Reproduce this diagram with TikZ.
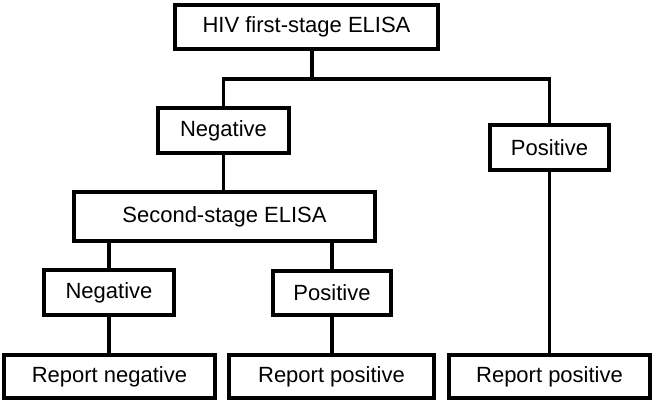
\documentclass[tikz,border=0pt]{standalone}
\usepackage{fontspec}
\setmainfont{Liberation Sans}
\begin{document}
\begin{tikzpicture}[x=1pt,y=-1pt,
  box/.style={draw=black, line width=3.8pt, fill=white, inner sep=0pt,
    font=\fontsize{22}{26}\selectfont, anchor=center},
  link/.style={draw=black, line width=3.4pt}]
\useasboundingbox (0,0) rectangle (654,402);
\fill[white] (0,0) rectangle (654,402);
% nodes
\node[box, minimum width=263pt, minimum height=44pt] (top) at (306.5,27) {HIV first-stage ELISA};
\node[box, minimum width=131pt, minimum height=45pt] (neg1) at (223.5,130.5) {Negative};
\node[box, minimum width=119pt, minimum height=45pt] (pos1) at (549.5,147.5) {Positive};
\node[box, minimum width=301pt, minimum height=49pt] (second) at (224.5,216.5) {Second-stage ELISA};
\node[box, minimum width=130pt, minimum height=45pt] (neg2) at (109,292.5) {Negative};
\node[box, minimum width=118pt, minimum height=44pt] (pos2) at (332,293) {Positive};
\node[box, minimum width=211pt, minimum height=43pt] (rep1) at (109.5,376.5) {Report negative};
\node[box, minimum width=205pt, minimum height=43pt] (rep2) at (331.5,376.5) {Report positive};
\node[box, minimum width=201pt, minimum height=43pt] (rep3) at (549.5,376.5) {Report positive};
\coordinate (j) at (312,79);
% connectors
\begin{scope}[on background layer/.style={}]
\draw[link] (top.south -| j) -- (j);
\draw[link, line join=miter] (neg1.north) -- (neg1.north |- j) -- (j -| pos1.north) -- (pos1.north);
\draw[link] (neg1.south) -- (second.north -| neg1.south);
\draw[link] (second.south -| neg2.north) -- (neg2.north);
\draw[link] (second.south -| pos2.north) -- (pos2.north);
\draw[link] (neg2.south) -- (rep1.north -| neg2.south);
\draw[link] (pos2.south) -- (rep2.north -| pos2.south);
\draw[link] (pos1.south) -- (rep3.north -| pos1.south);
\end{scope}
\end{tikzpicture}
\end{document}
